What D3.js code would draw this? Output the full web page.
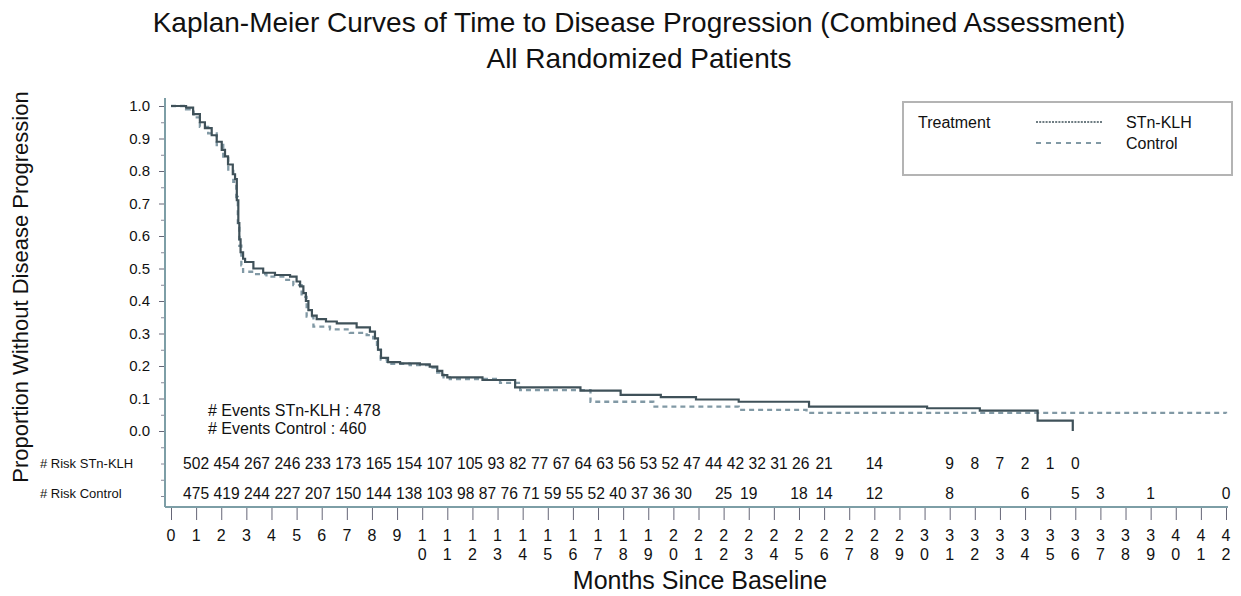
<!DOCTYPE html>
<html>
<head>
<meta charset="utf-8">
<script src="https://cdn.jsdelivr.net/npm/d3@7"></script>
<style>
  body { margin: 0; background: #fff; }
  text { font-family: "Liberation Sans", Arial, Helvetica, sans-serif; fill: #111; }
</style>
</head>
<body>
<svg id="chart"></svg>
<script>
const width = 1241;
const height = 596;

// Kaplan-Meier steps (months, proportion)
const stnMonths = [0, 0.45, 0.6, 0.88, 1.15, 1.35, 1.62, 1.82, 2.02, 2.15, 2.27, 2.46, 2.55, 2.62, 2.68, 2.72, 2.77, 2.87, 2.95, 3.28, 3.67, 4.14, 4.74, 5.0, 5.14, 5.27, 5.37, 5.47, 5.61, 5.8, 6.17, 6.6, 7.39, 7.92, 8.12, 8.24, 8.36, 8.64, 9.12, 9.91, 10.3, 10.6, 10.8, 11.0, 12.4, 13.7, 16.3, 17.9, 19.5, 20.9, 22.6, 25.4, 30.1, 32.2, 34.5, 35.9];
const stnSurv   = [1.0, 1.0, 0.995, 0.975, 0.95, 0.932, 0.91, 0.89, 0.865, 0.845, 0.82, 0.79, 0.775, 0.71, 0.64, 0.59, 0.55, 0.53, 0.52, 0.50, 0.487, 0.48, 0.475, 0.46, 0.445, 0.424, 0.40, 0.372, 0.355, 0.344, 0.337, 0.331, 0.319, 0.306, 0.285, 0.25, 0.225, 0.212, 0.208, 0.205, 0.198, 0.185, 0.172, 0.165, 0.157, 0.134, 0.124, 0.111, 0.104, 0.097, 0.09, 0.075, 0.07, 0.0625, 0.032, 0.0];

const ctlMonths = [0, 0.45, 0.6, 0.9, 1.15, 1.48, 1.82, 2.08, 2.28, 2.48, 2.6, 2.66, 2.72, 2.8, 2.87, 3.28, 3.8, 4.47, 4.87, 5.2, 5.4, 5.67, 6.33, 7.12, 7.79, 8.05, 8.2, 8.35, 8.6, 9.5, 10.3, 10.6, 10.85, 11.1, 13.1, 13.9, 16.7, 19.2, 22.6, 25.3, 42];
const ctlSurv   = [1.0, 1.0, 0.99, 0.965, 0.936, 0.916, 0.88, 0.844, 0.80, 0.767, 0.72, 0.64, 0.57, 0.51, 0.49, 0.483, 0.475, 0.465, 0.449, 0.413, 0.352, 0.321, 0.313, 0.302, 0.295, 0.285, 0.25, 0.22, 0.207, 0.203, 0.195, 0.18, 0.165, 0.16, 0.148, 0.126, 0.09, 0.075, 0.065, 0.056, 0.054];

const yTicks = [0, 0.1, 0.2, 0.3, 0.4, 0.5, 0.6, 0.7, 0.8, 0.9, 1.0];
const yMinor = [-0.2, -0.15, -0.1, -0.05, 0.05, 0.15, 0.25, 0.35, 0.45, 0.55, 0.65, 0.75, 0.85, 0.95];
const monthTicks = d3.range(0, 43);

// numbers at risk, with the month each count belongs to
const riskStnCounts = [502, 454, 267, 246, 233, 173, 165, 154, 107, 105, 93, 82, 77, 67, 64, 63, 56, 53, 52, 47, 44, 42, 32, 31, 26, 21, 14, 9, 8, 7, 2, 1, 0];
const riskStnMonths = [1, 2, 3, 4, 5, 6, 7, 8, 9, 10, 11, 12, 13, 14, 15, 16, 17, 18, 19, 20, 21, 22, 23, 24, 25, 26, 28, 31, 32, 33, 34, 35, 36];
const riskCtlCounts = [475, 419, 244, 227, 207, 150, 144, 138, 103, 98, 87, 76, 71, 59, 55, 52, 40, 37, 36, 30, 25, 19, 18, 14, 12, 8, 6, 5, 3, 1, 0];
const riskCtlMonths = [1, 2, 3, 4, 5, 6, 7, 8, 9, 10, 11, 12, 13, 14, 15, 16, 17, 18, 19, 20, 22, 23, 25, 26, 28, 31, 34, 36, 37, 39, 42];

const eventsStn = 478;
const eventsCtl = 460;

const stnColor = "#3f5159";
const ctlColor = "#8199a5";
const axisColor = "#7d9ea6";

const svg = d3.select("#chart").attr("width", width).attr("height", height);

const x = d3.scaleLinear().domain([0, 42]).range([171, 1226]);
const y = d3.scaleLinear().domain([0, 1]).range([431, 106]);

// titles
svg.append("text").attr("x", 639).attr("y", 32).attr("text-anchor", "middle")
   .style("font-size", "28px").text("Kaplan-Meier Curves of Time to Disease Progression (Combined Assessment)");
svg.append("text").attr("x", 639).attr("y", 68).attr("text-anchor", "middle")
   .style("font-size", "28px").text("All Randomized Patients");

svg.append("text").attr("transform", "translate(28,287) rotate(-90)").attr("text-anchor", "middle")
   .style("font-size", "22px").text("Proportion Without Disease Progression");
svg.append("text").attr("x", 700).attr("y", 589).attr("text-anchor", "middle")
   .style("font-size", "25px").text("Months Since Baseline");

// y axis
const yAxisG = svg.append("g").attr("transform", "translate(165,0)");
yAxisG.call(d3.axisLeft(y).tickValues(yTicks).tickFormat(d3.format(".1f")).tickSize(6).tickPadding(9));
yAxisG.select(".domain").remove();
yAxisG.selectAll(".tick line").attr("stroke", "#667");
yAxisG.selectAll(".tick text").style("font-size", "15px").attr("fill", "#111")
   .style("font-family", "Liberation Sans, Arial, sans-serif");
const yMinorG = svg.append("g").attr("transform", "translate(165,0)");
yMinorG.call(d3.axisLeft(y).tickValues(yMinor).tickFormat("").tickSize(4));
yMinorG.select(".domain").remove();
yMinorG.selectAll(".tick line").attr("stroke", "#889");
svg.append("line").attr("x1", 165).attr("x2", 165).attr("y1", 98).attr("y2", 507)
   .attr("stroke", axisColor).attr("stroke-width", 2);

// x axis
const xAxisG = svg.append("g").attr("transform", "translate(0,507)");
xAxisG.call(d3.axisBottom(x).tickValues(monthTicks).tickFormat("").tickSize(13));
xAxisG.select(".domain").remove();
xAxisG.selectAll(".tick line").attr("stroke", "#667");
svg.append("line").attr("x1", 165).attr("x2", 1228).attr("y1", 507).attr("y2", 507)
   .attr("stroke", axisColor).attr("stroke-width", 2);

const tickLabels = svg.append("g").style("font-size", "16px");
monthTicks.forEach(m => {
  const s = String(m);
  tickLabels.append("text").attr("x", x(m)).attr("y", 541).attr("text-anchor", "middle").text(s[0]);
  if (s.length > 1) {
    tickLabels.append("text").attr("x", x(m)).attr("y", 560).attr("text-anchor", "middle").text(s[1]);
  }
});

// curves
const line = d3.line().x(d => x(d[0])).y(d => y(d[1])).curve(d3.curveStepAfter);
svg.append("path").datum(d3.zip(ctlMonths, ctlSurv)).attr("d", line)
   .attr("fill", "none").attr("stroke", ctlColor).attr("stroke-width", 2.3).attr("stroke-dasharray", "5,4");
svg.append("path").datum(d3.zip(stnMonths, stnSurv)).attr("d", line)
   .attr("fill", "none").attr("stroke", stnColor).attr("stroke-width", 2.2);

// events
svg.append("text").attr("x", 208).attr("y", 416).style("font-size", "16px").text("# Events STn-KLH : " + eventsStn);
svg.append("text").attr("x", 208).attr("y", 434).style("font-size", "16px").text("# Events Control : " + eventsCtl);

// numbers at risk: centred on their month, pushed right when they would collide
function riskRow(counts, months, yPos, label) {
  svg.append("text").attr("x", 40).attr("y", yPos - 1).style("font-size", "13px").text(label);
  const g = svg.append("g").style("font-size", "15.6px");
  const texts = counts.map(c => g.append("text").attr("y", yPos).text(c));
  const space = 4.4;
  let prevEnd = -Infinity;
  texts.forEach((t, i) => {
    const w = t.node().getComputedTextLength();
    const left = Math.max(x(months[i]) - w / 2, prevEnd + space);
    t.attr("x", left);
    prevEnd = left + w;
  });
}
riskRow(riskStnCounts, riskStnMonths, 469, "# Risk STn-KLH");
riskRow(riskCtlCounts, riskCtlMonths, 499, "# Risk Control");

// legend
const lg = svg.append("g");
lg.append("rect").attr("x", 903).attr("y", 102).attr("width", 329).attr("height", 73)
  .attr("fill", "#fff").attr("stroke", "#b4b4b4").attr("stroke-width", 2);
lg.append("text").attr("x", 918).attr("y", 128).style("font-size", "16px").text("Treatment");
lg.append("line").attr("x1", 1036).attr("x2", 1103).attr("y1", 122).attr("y2", 122)
  .attr("stroke", stnColor).attr("stroke-width", 1.6).attr("stroke-dasharray", "2,1.2");
lg.append("line").attr("x1", 1036).attr("x2", 1103).attr("y1", 143).attr("y2", 143)
  .attr("stroke", ctlColor).attr("stroke-width", 2).attr("stroke-dasharray", "5,5");
lg.append("text").attr("x", 1126).attr("y", 128).style("font-size", "16px").text("STn-KLH");
lg.append("text").attr("x", 1126).attr("y", 149).style("font-size", "16px").text("Control");
</script>
</body>
</html>
